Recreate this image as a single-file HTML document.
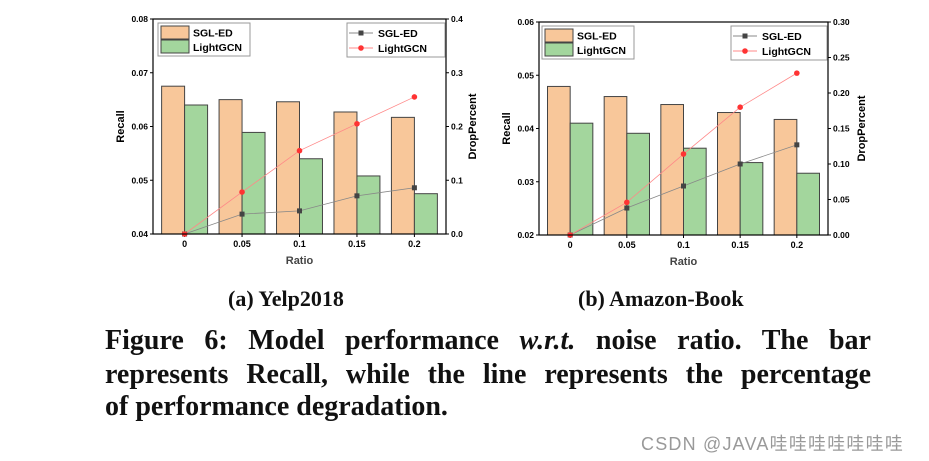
<!DOCTYPE html>
<html><head><meta charset="utf-8"><style>
body{margin:0;background:#fff;width:929px;height:461px;overflow:hidden;position:relative;font-family:"Liberation Sans",sans-serif}
.cap{position:absolute;font-family:"Liberation Serif",serif;font-weight:bold;color:#111;white-space:nowrap}
.ln{position:absolute;left:105px;width:766px;font-family:"Liberation Serif",serif;font-weight:bold;font-size:28px;color:#111;white-space:nowrap;text-align:justify;text-align-last:justify}
</style></head><body>
<svg id="svg" width="929" height="290" style="position:absolute;left:0;top:0"></svg>
<div class="cap" style="left:228px;top:286px;font-size:22px">(a) Yelp2018</div>
<div class="cap" style="left:578px;top:286px;font-size:22px">(b) Amazon-Book</div>
<div class="ln" style="top:325px">Figure 6: Model performance <i>w.r.t.</i> noise ratio. The bar</div>
<div class="ln" style="top:359px">represents Recall, while the line represents the percentage</div>
<div class="ln" style="top:391px;text-align-last:left">of performance degradation.</div>
<div style="position:absolute;left:641px;top:430px;font-size:18px;letter-spacing:1.2px;color:#999;font-family:'Liberation Sans','Noto Sans CJK SC',sans-serif">CSDN @JAVA哇哇哇哇哇哇哇</div>
<script>
const categories=["0","0.05","0.1","0.15","0.2"];
const yelpSgl=[0.0675,0.065,0.0646,0.0627,0.0617];
const yelpLgcn=[0.064,0.0589,0.054,0.0508,0.0475];
const yelpDropSgl=[0,0.037,0.043,0.071,0.086];
const yelpDropLgcn=[0,0.078,0.155,0.205,0.255];
const yelpLeftTicks=["0.04","0.05","0.06","0.07","0.08"];
const yelpRightTicks=["0.0","0.1","0.2","0.3","0.4"];
const amzSgl=[0.0479,0.046,0.0445,0.043,0.0417];
const amzLgcn=[0.041,0.0391,0.0363,0.0336,0.0316];
const amzDropSgl=[0,0.038,0.069,0.10,0.127];
const amzDropLgcn=[0,0.046,0.114,0.18,0.228];
const amzLeftTicks=["0.02","0.03","0.04","0.05","0.06"];
const amzRightTicks=["0.00","0.05","0.10","0.15","0.20","0.25","0.30"];
const NS="http://www.w3.org/2000/svg";
const svg=document.getElementById('svg');
function mk(tag,at,parent,txt){const e=document.createElementNS(NS,tag);for(const k in at)e.setAttribute(k,at[k]);if(txt!==undefined)e.textContent=txt;(parent||svg).appendChild(e);return e;}
function chart(o){
 const g=mk('g',{});
 
 
 const L=o.l,R=o.r,T=o.t,B=o.b;
 const yl=v=>B-(v-o.lmin)/(o.lmax-o.lmin)*(B-T);
 const yr=v=>B-(v-o.rmin)/(o.rmax-o.rmin)*(B-T);
 const step=(R-L)/(categories.length+0.1);
 const x=i=>L+step*(0.55+i);
 const bw=step*0.4;
 categories.forEach((c,i)=>{
  const b1=mk('rect',{x:x(i)-bw,y:yl(o.sgl[i]),width:bw,height:B-yl(o.sgl[i]),fill:'#f8c79a',stroke:'#444','stroke-width':1},g);
  
  
  const b2=mk('rect',{x:x(i),y:yl(o.lg[i]),width:bw,height:B-yl(o.lg[i]),fill:'#a3d69d',stroke:'#444','stroke-width':1},g);
  
  
  const t=mk('text',{x:x(i),y:B+13,'font-size':9,'font-weight':'bold','text-anchor':'middle'},g,c);
  
  
  mk('line',{x1:x(i),x2:x(i),y1:B,y2:B+3,stroke:'#000'},g);
 });
 const ptsS=o.ds.map((v,i)=>x(i)+','+yr(v)).join(' ');
 const ptsL=o.dl.map((v,i)=>x(i)+','+yr(v)).join(' ');
 const p1=mk('polyline',{points:ptsS,fill:'none',stroke:'#888','stroke-width':0.8},g);
 
 
 const p2=mk('polyline',{points:ptsL,fill:'none',stroke:'#f88','stroke-width':0.8},g);
 
 
 o.ds.forEach((v,i)=>{const m=mk('rect',{x:x(i)-2.5,y:yr(v)-2.5,width:5,height:5,fill:'#444'},g);});
 o.dl.forEach((v,i)=>{const m=mk('circle',{cx:x(i),cy:yr(v),r:2.8,fill:'#f33'},g);});
 mk('rect',{x:L,y:T,width:R-L,height:B-T,fill:'none',stroke:'#000','stroke-width':1.2},g);
 o.lt.forEach((t,i)=>{const y=B-i*(B-T)/(o.lt.length-1);mk('line',{x1:L-3,x2:L,y1:y,y2:y,stroke:'#000'},g);
  const e=mk('text',{x:L-5,y:y+3,'font-size':8.5,'font-weight':'bold','text-anchor':'end'},g,t);});
 o.rt.forEach((t,i)=>{const y=B-i*(B-T)/(o.rt.length-1);mk('line',{x1:R,x2:R+3,y1:y,y2:y,stroke:'#000'},g);
  const e=mk('text',{x:R+5,y:y+3,'font-size':8.5,'font-weight':'bold'},g,t);});
 const xt=mk('text',{x:(L+R)/2,y:B+30,'font-size':11,'font-weight':'bold','text-anchor':'middle',fill:'#444'},g,'Ratio');
 
 const yt=mk('text',{x:0,y:0,'font-size':11,'font-weight':'bold','text-anchor':'middle',transform:`translate(${L-29},${(T+B)/2}) rotate(-90)`},g,'Recall');
 
 const y2=mk('text',{x:0,y:0,'font-size':11,'font-weight':'bold','text-anchor':'middle',transform:`translate(${R+o.rto},${(T+B)/2}) rotate(-90)`},g,'DropPercent');
 
 const lg1=mk('g',{},g);
 mk('rect',{x:o.bl,y:T+4,width:92,height:33,fill:'#fff',stroke:'#999'},lg1);
 mk('rect',{x:o.bl+3,y:T+7,width:28,height:13,fill:'#f8c79a',stroke:'#444'},lg1);
 mk('rect',{x:o.bl+3,y:T+21,width:28,height:13,fill:'#a3d69d',stroke:'#444'},lg1);
 mk('text',{x:o.bl+35,y:T+17.5,'font-size':10.5,'font-weight':'bold'},lg1,'SGL-ED');
 mk('text',{x:o.bl+35,y:T+32,'font-size':10.5,'font-weight':'bold'},lg1,'LightGCN');
 const lg2=mk('g',{},g);
 mk('rect',{x:o.ll,y:T+4,width:R-o.ll-1,height:34,fill:'#fff',stroke:'#999'},lg2);
 mk('line',{x1:o.ll+2,x2:o.ll+26,y1:T+14,y2:T+14,stroke:'#888'},lg2);
 mk('rect',{x:o.ll+11.5,y:T+11.5,width:5,height:5,fill:'#444'},lg2);
 mk('line',{x1:o.ll+2,x2:o.ll+26,y1:T+29,y2:T+29,stroke:'#f88'},lg2);
 mk('circle',{cx:o.ll+14,cy:T+29,r:2.8,fill:'#f33'},lg2);
 mk('text',{x:o.ll+31,y:T+18,'font-size':10.5,'font-weight':'bold'},lg2,'SGL-ED');
 mk('text',{x:o.ll+31,y:T+33,'font-size':10.5,'font-weight':'bold'},lg2,'LightGCN');
}
chart({name:'yelp-chart',l:153,r:446,t:19,b:234,lmin:0.04,lmax:0.08,rmin:0,rmax:0.4,sgl:yelpSgl,lg:yelpLgcn,ds:yelpDropSgl,dl:yelpDropLgcn,lt:yelpLeftTicks,rt:yelpRightTicks,bl:158,ll:347,rto:30});
chart({name:'amazon-chart',l:539,r:828,t:22,b:235,lmin:0.02,lmax:0.06,rmin:0,rmax:0.3,sgl:amzSgl,lg:amzLgcn,ds:amzDropSgl,dl:amzDropLgcn,lt:amzLeftTicks,rt:amzRightTicks,bl:542,ll:731,rto:37});
</script>
</body></html>
